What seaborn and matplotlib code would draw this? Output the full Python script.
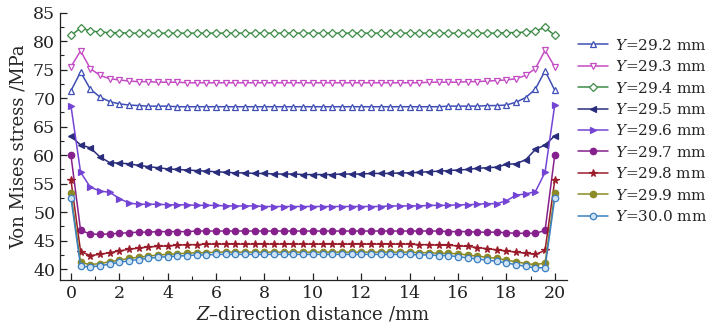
import numpy as np
import pandas as pd
import matplotlib
matplotlib.use("Agg")
import matplotlib.pyplot as plt
from matplotlib.ticker import MultipleLocator
import seaborn as sns

# Z-direction positions (mm)
z_mm = [round(0.4 * i, 1) for i in range(51)]

y292 = [71.3, 74.6, 71.6, 70.2, 69.4, 69.0, 68.8, 68.7, 68.6, 68.6,
        68.6, 68.5, 68.5, 68.5, 68.5, 68.5, 68.5, 68.5, 68.5, 68.5,
        68.5, 68.5, 68.5, 68.5, 68.5, 68.5, 68.5, 68.5, 68.5, 68.5,
        68.5, 68.5, 68.5, 68.5, 68.5, 68.5, 68.5, 68.5, 68.5, 68.6,
        68.6, 68.6, 68.6, 68.7, 68.7, 68.8, 69.3, 70.1, 71.6, 74.8, 71.4]
y293 = [75.5, 78.3, 75.2, 74.0, 73.4, 73.2, 73.0, 72.9, 72.9, 72.8,
        72.8, 72.8, 72.7, 72.7, 72.7, 72.7, 72.7, 72.7, 72.7, 72.7,
        72.7, 72.7, 72.7, 72.7, 72.7, 72.7, 72.7, 72.7, 72.7, 72.7,
        72.7, 72.7, 72.7, 72.7, 72.7, 72.7, 72.7, 72.8, 72.8, 72.8,
        72.8, 72.9, 72.9, 73.0, 73.1, 73.2, 73.4, 74.0, 75.2, 78.4, 75.5]
y294 = [81.0, 82.3, 81.8, 81.6, 81.5, 81.5, 81.4, 81.4, 81.4, 81.4,
        81.4, 81.4, 81.4, 81.4, 81.4, 81.4, 81.4, 81.4, 81.4, 81.4,
        81.4, 81.4, 81.4, 81.4, 81.4, 81.4, 81.4, 81.4, 81.4, 81.4,
        81.4, 81.4, 81.4, 81.4, 81.4, 81.4, 81.4, 81.4, 81.4, 81.4,
        81.4, 81.4, 81.4, 81.4, 81.4, 81.5, 81.5, 81.6, 81.8, 82.4, 81.0]
y295 = [63.3, 61.8, 61.3, 59.7, 58.7, 58.6, 58.5, 58.2, 58.0, 57.8,
        57.6, 57.5, 57.4, 57.3, 57.2, 57.1, 57.0, 56.9, 56.9, 56.8,
        56.8, 56.7, 56.7, 56.7, 56.6, 56.6, 56.6, 56.6, 56.7, 56.7,
        56.7, 56.8, 56.8, 56.8, 56.9, 56.9, 57.0, 57.1, 57.2, 57.3,
        57.4, 57.5, 57.7, 57.8, 57.9, 58.4, 58.5, 59.2, 61.0, 61.8, 63.4]
y296 = [68.7, 57.0, 54.4, 53.7, 53.5, 52.4, 51.6, 51.4, 51.4, 51.4,
        51.3, 51.3, 51.3, 51.2, 51.2, 51.2, 51.1, 51.1, 51.1, 51.1,
        51.0, 51.0, 51.0, 51.0, 51.0, 51.0, 51.0, 51.0, 51.0, 51.0,
        51.0, 51.0, 51.0, 51.1, 51.1, 51.1, 51.1, 51.2, 51.2, 51.2,
        51.3, 51.3, 51.4, 51.5, 51.5, 52.0, 53.0, 53.2, 53.6, 57.0, 68.8]
y297 = [60.0, 46.8, 46.2, 46.1, 46.2, 46.3, 46.4, 46.5, 46.5, 46.6,
        46.6, 46.6, 46.6, 46.7, 46.7, 46.7, 46.7, 46.7, 46.7, 46.7,
        46.7, 46.7, 46.7, 46.7, 46.7, 46.7, 46.7, 46.7, 46.7, 46.7,
        46.7, 46.7, 46.7, 46.7, 46.7, 46.7, 46.7, 46.7, 46.7, 46.6,
        46.6, 46.6, 46.5, 46.5, 46.5, 46.4, 46.3, 46.3, 46.3, 46.8, 60.0]
y298 = [55.7, 43.1, 42.4, 42.6, 42.9, 43.2, 43.5, 43.7, 43.9, 44.0,
        44.1, 44.2, 44.3, 44.3, 44.4, 44.4, 44.4, 44.4, 44.4, 44.4,
        44.4, 44.4, 44.4, 44.4, 44.4, 44.4, 44.4, 44.4, 44.4, 44.4,
        44.4, 44.4, 44.4, 44.4, 44.4, 44.4, 44.3, 44.3, 44.2, 44.2,
        44.1, 44.0, 43.8, 43.6, 43.4, 43.2, 43.0, 42.8, 42.6, 43.3, 55.6]
y299 = [53.3, 41.2, 40.8, 41.0, 41.3, 41.6, 41.9, 42.1, 42.3, 42.5,
        42.6, 42.7, 42.8, 42.9, 42.9, 43.0, 43.0, 43.0, 43.0, 43.0,
        43.0, 43.0, 43.0, 43.0, 43.0, 43.0, 43.0, 43.0, 43.0, 43.0,
        43.0, 43.0, 43.0, 43.0, 43.0, 43.0, 42.9, 42.9, 42.8, 42.8,
        42.7, 42.5, 42.3, 42.1, 41.9, 41.6, 41.3, 41.0, 40.8, 41.1, 53.3]
y300 = [52.5, 40.5, 40.4, 40.6, 40.9, 41.2, 41.5, 41.7, 41.9, 42.1,
        42.2, 42.3, 42.4, 42.5, 42.5, 42.6, 42.6, 42.6, 42.6, 42.6,
        42.6, 42.6, 42.6, 42.6, 42.6, 42.6, 42.6, 42.6, 42.6, 42.6,
        42.6, 42.6, 42.6, 42.6, 42.6, 42.6, 42.5, 42.5, 42.4, 42.4,
        42.2, 42.0, 41.8, 41.6, 41.4, 41.1, 40.8, 40.5, 40.2, 40.3, 52.5]

series_labels = ["29.2", "29.3", "29.4", "29.5", "29.6", "29.7", "29.8", "29.9", "30.0"]
series_values = [y292, y293, y294, y295, y296, y297, y298, y299, y300]

colors = ["#3f4fb5", "#c44cc4", "#3c8c46", "#2a2d7c", "#7444d4",
          "#86208c", "#9a1c2a", "#8c8a26", "#3a80c2"]
markers = ["^", "v", "D", "<", ">", "o", "*", "o", "o"]
faces = ["white", "white", "white", None, None, None, None, None, "#cfe2f5"]
msizes = [5, 5, 3.8, 5, 5, 4.6, 5.5, 4.6, 4.6]

sns.set_style("ticks")
plt.rcParams["font.family"] = ["DejaVu Serif"]
plt.rcParams["mathtext.fontset"] = "dejavuserif"

fig = plt.figure(figsize=(7.13, 3.33), dpi=100)
ax = fig.add_axes([0.0842, 0.159, 0.795 - 0.0842, 0.962 - 0.159])

for lab, vals, c, m, fc, ms in zip(series_labels, series_values, colors, markers, faces, msizes):
    df = pd.DataFrame({"z": z_mm, "s": vals})
    sns.lineplot(data=df, x="z", y="s", ax=ax, color=c, marker=m,
                 markerfacecolor=(fc if fc else c), markeredgecolor=c,
                 markeredgewidth=0.9, markersize=ms, linewidth=1.1,
                 label=r"$\mathit{Y}$=" + lab + " mm", legend=False)

ax.set_xlim(-0.45, 20.5)
ax.set_ylim(38.1, 85.0)
ax.xaxis.set_major_locator(MultipleLocator(2))
ax.xaxis.set_minor_locator(MultipleLocator(1))
ax.yaxis.set_major_locator(MultipleLocator(5))
ax.yaxis.set_minor_locator(MultipleLocator(2.5))
ax.tick_params(axis="both", which="both", direction="in", top=False, right=False,
               labelsize=12.5, colors="#222222")
ax.tick_params(which="major", length=5, width=0.9)
ax.tick_params(which="minor", length=3, width=0.8)
for side in ["top", "right"]:
    ax.spines[side].set_visible(False)
for side in ["left", "bottom"]:
    ax.spines[side].set_linewidth(0.9)
    ax.spines[side].set_color("#222222")

ax.set_xlabel(r"$\mathit{Z}$–direction distance /mm", fontsize=13, labelpad=2)
ax.set_ylabel("Von Mises stress /MPa", fontsize=13, labelpad=4)

handles, labels = ax.get_legend_handles_labels()
fig.legend(handles, labels, loc="upper left", bbox_to_anchor=(0.802, 0.905),
           frameon=False, fontsize=11, handlelength=2.0, handletextpad=0.45,
           labelspacing=0.42, borderaxespad=0)

fig.savefig("out.png", dpi=100)
